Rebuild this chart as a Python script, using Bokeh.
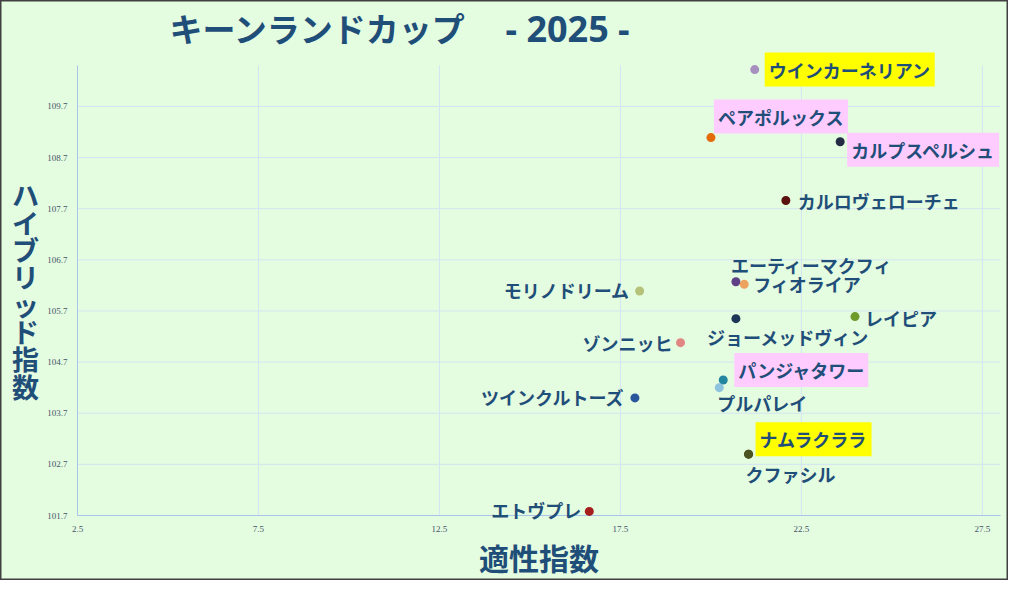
from bokeh.plotting import figure
from bokeh.models import Label, LabelSet, Range1d, ColumnDataSource
from bokeh.embed import file_html
from bokeh.resources import INLINE

# values
horses = ["ウインカーネリアン", "ペアポルックス", "カルプスペルシュ", "カルロヴェローチェ",
          "エーティーマクフィ", "フィオライア", "モリノドリーム", "ジョーメッドヴィン",
          "レイピア", "ゾンニッヒ", "パンジャタワー", "プルパレイ", "ツインクルトーズ",
          "クファシル", "ナムラクララ", "エトヴプレ"]
tekisei = [21.21, 20.0, 23.57, 22.07, 20.69, 20.92, 18.03, 20.69,
           23.98, 19.16, 20.34, 20.23, 17.9, 21.04, 21.04, 16.64]
hybrid = [110.42, 109.09, 109.01, 107.86, 106.27, 106.22, 106.09, 105.55,
          105.59, 105.08, 104.35, 104.2, 104.0, 102.9, 102.9, 101.78]
x_ticks = [2.5, 7.5, 12.5, 17.5, 22.5, 27.5]
y_ticks = [101.7, 102.7, 103.7, 104.7, 105.7, 106.7, 107.7, 108.7, 109.7]
x_lim = (2.5, 28.0)
y_lim = (101.7, 110.5)

# styling: dot colours, label placement (align, dx, dy), highlight boxes
dot_color = {
    "ウインカーネリアン": "#a78fc0", "ペアポルックス": "#e36c09", "カルプスペルシュ": "#262b45",
    "カルロヴェローチェ": "#5c1111", "エーティーマクフィ": "#5f3f86", "フィオライア": "#eda25f",
    "モリノドリーム": "#b6c27a", "ジョーメッドヴィン": "#1d3557", "レイピア": "#6f9b2b",
    "ゾンニッヒ": "#e28683", "パンジャタワー": "#24859f", "プルパレイ": "#8ec3df",
    "ツインクルトーズ": "#27579a", "クファシル": "#4f4f20", "ナムラクララ": "#4b5320",
    "エトヴプレ": "#a51d1d",
}
label_pos = {
    "ウインカーネリアン": ("left", 10, 0), "ペアポルックス": ("left", 3, 21),
    "カルプスペルシュ": ("left", 7, -8), "カルロヴェローチェ": ("left", 12, 0),
    "エーティーマクフィ": ("left", -5, 17), "フィオライア": ("left", 9, 0),
    "モリノドリーム": ("right", -10, 1), "ジョーメッドヴィン": ("left", -29, -18),
    "レイピア": ("left", 10, -1), "ゾンニッヒ": ("right", -8, 0),
    "パンジャタワー": ("left", 11, 10), "プルパレイ": ("left", -2, -15),
    "ツインクルトーズ": ("right", -10, 1), "クファシル": ("left", -3, -20),
    "ナムラクララ": ("left", 7, 15), "エトヴプレ": ("right", -8, 1),
}
highlight = {
    "ウインカーネリアン": "#ffff00", "ナムラクララ": "#ffff00",
    "ペアポルックス": "#ffccff", "カルプスペルシュ": "#ffccff", "パンジャタワー": "#ffccff",
}

BG = "#e4fce0"
NAVY = "#1f4e79"
GRID = "#d5e4f2"
AXIS = "#a9c4ea"
JP = "Noto Sans CJK JP"

# the frame fills the whole canvas so that nothing (labels, titles) is clipped;
# the plotting area sits 77px from the left, 8 from the right, 65 top and bottom
W, H = 1008, 580
L, R, T, B = 77, 8, 65, 65
sx = (W - L - R) / (x_lim[1] - x_lim[0])
sy = (H - T - B) / (y_lim[1] - y_lim[0])

p = figure(width=W, height=H, output_backend="svg", toolbar_location=None,
           x_range=Range1d(x_lim[0] - L / sx, x_lim[1] + R / sx),
           y_range=Range1d(y_lim[0] - B / sy, y_lim[1] + T / sy),
           x_axis_location=None, y_axis_location=None, min_border=0)
p.grid.visible = False
p.background_fill_color = BG
p.border_fill_color = BG
p.outline_line_color = "#404040"
p.outline_line_width = 2

# grid lines and axis lines
p.segment(x0=x_ticks, x1=x_ticks, y0=y_lim[0], y1=y_lim[1], line_color=GRID, line_width=1)
p.segment(x0=x_lim[0], x1=x_lim[1], y0=y_ticks, y1=y_ticks, line_color=GRID, line_width=1)
p.segment(x0=[x_lim[0]], x1=[x_lim[0]], y0=[y_lim[0]], y1=[y_lim[1]], line_color=AXIS)
p.segment(x0=[x_lim[0]], x1=[x_lim[1]], y0=[y_lim[0]], y1=[y_lim[0]], line_color=AXIS)

# tick labels
xt = ColumnDataSource(dict(x=x_ticks, y=[y_lim[0]] * len(x_ticks), t=[str(v) for v in x_ticks]))
yt = ColumnDataSource(dict(x=[x_lim[0]] * len(y_ticks), y=y_ticks, t=[str(v) for v in y_ticks]))
p.add_layout(LabelSet(x="x", y="y", text="t", source=xt, y_offset=-13,
                      text_align="center", text_baseline="middle",
                      text_font="Noto Sans", text_font_size="9px", text_color="#44546a"))
p.add_layout(LabelSet(x="x", y="y", text="t", source=yt, x_offset=-10,
                      text_align="right", text_baseline="middle",
                      text_font="Noto Sans", text_font_size="9px", text_color="#44546a"))

src = ColumnDataSource(dict(x=tekisei, y=hybrid, name=horses,
                            color=[dot_color[h] for h in horses]))
p.scatter("x", "y", source=src, size=9, fill_color="color", line_color=None)

for h, xv, yv in zip(horses, tekisei, hybrid):
    align, dx, dy = label_pos[h]
    lab = Label(x=xv, y=yv, text=h, x_offset=dx, y_offset=dy,
                text_align=align, text_baseline="middle",
                text_font=JP, text_font_size="18px", text_font_style="bold",
                text_color=NAVY)
    if h in highlight:
        lab.background_fill_color = highlight[h]
        lab.padding = 4
    p.add_layout(lab)

# chart title, axis titles (screen px from the bottom-left corner)
p.add_layout(Label(x=169, y=H - 27, x_units="screen", y_units="screen",
                   text="キーンランドカップ", text_align="left",
                   text_baseline="middle", text_font=JP, text_font_size="33px",
                   text_font_style="bold", text_color=NAVY))
p.add_layout(Label(x=505, y=H - 28, x_units="screen", y_units="screen",
                   text="- 2025 -", text_align="left",
                   text_baseline="middle", text_font="Noto Sans", text_font_size="36px",
                   text_font_style="bold", text_color=NAVY))
p.add_layout(Label(x=(L + W - R) / 2, y=24, x_units="screen", y_units="screen",
                   text="適性指数", text_align="center", text_baseline="middle",
                   text_font=JP, text_font_size="30px", text_font_style="bold",
                   text_color=NAVY))
p.add_layout(Label(x=25, y=H - 290, x_units="screen", y_units="screen",
                   text="\n".join("ハイブリッド指数"), text_align="center",
                   text_baseline="middle", text_line_height=0.7,
                   text_font=JP, text_font_size="27px", text_font_style="bold",
                   text_color=NAVY))

open("out.html", "w").write(file_html(p, INLINE))
